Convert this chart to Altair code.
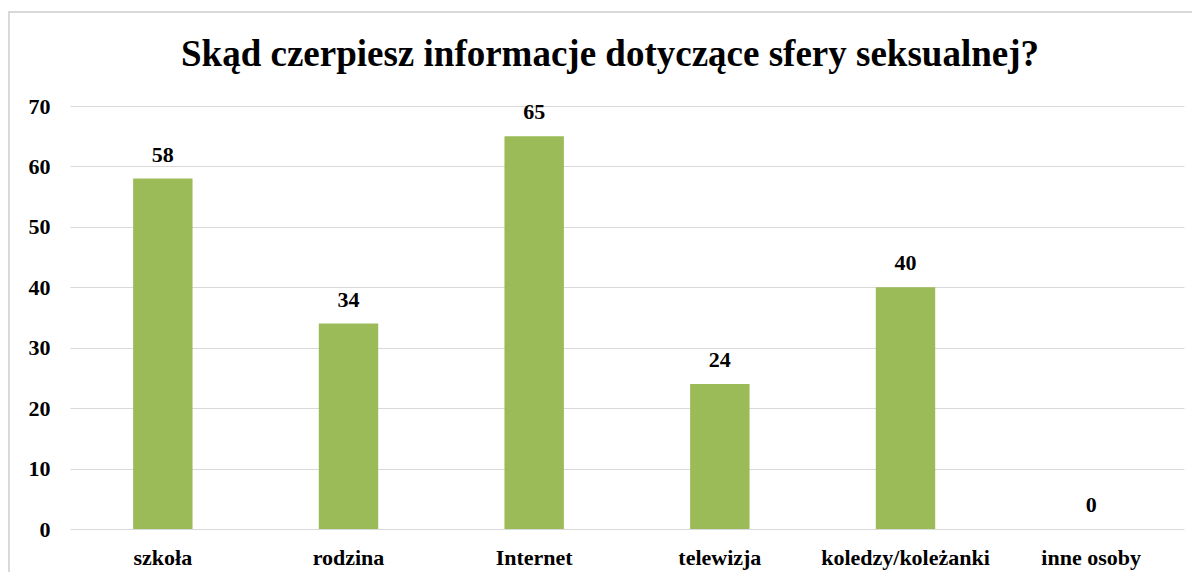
import altair as alt
import pandas as pd

categories = ["szkoła", "rodzina", "Internet", "telewizja", "koledzy/koleżanki", "inne osoby"]
values = [58, 34, 65, 24, 40, 0]
title_text = "Skąd czerpiesz informacje dotyczące sfery seksualnej?"

df = pd.DataFrame({"cat": categories, "val": values})
FONT = "Liberation Serif"
W, H = 1114, 423
TOP = 98

x = alt.X("cat:N", sort=categories, title=None,
          scale=alt.Scale(paddingInner=0.68, paddingOuter=0.34),
          axis=alt.Axis(labelAngle=0, labelFont=FONT, labelFontSize=22, labelFontWeight="bold",
                        labelColor="black", domain=False, ticks=False, labelPadding=18))
y = alt.Y("val:Q", title=None,
          scale=alt.Scale(domain=[0, 70]),
          axis=alt.Axis(values=[0, 10, 20, 30, 40, 50, 60, 70], labelFont=FONT, labelFontSize=22,
                        labelFontWeight="bold", labelColor="black", domain=False, ticks=False,
                        labelPadding=20, grid=True, gridColor="#d9d9d9", gridWidth=1))

base = alt.Chart(df)
bars = base.mark_bar(color="#9BBB59").encode(x=x, y=y)
labels = base.mark_text(font=FONT, fontSize=22, fontWeight="bold", color="black",
                        baseline="alphabetic", dy=-17).encode(x=x, y=y, text="val:Q")
border = base.mark_rect(fill=None, stroke="#d9d9d9", strokeWidth=1.5, clip=False).encode(
    x=alt.value(-61), x2=alt.value(1300), y=alt.value(-(TOP - 4)), y2=alt.value(700))
title = alt.Chart(pd.DataFrame({"t": [title_text]})).mark_text(
    font=FONT, fontSize=37, fontWeight="bold", color="black",
    baseline="alphabetic", align="center").encode(
    text="t:N", x=alt.value(540), y=alt.value(-40))

chart = alt.layer(border, bars, labels, title).properties(
    width=W, height=H,
    padding={"left": 62, "top": TOP, "right": 8, "bottom": 43},
    autosize=alt.AutoSizeParams(type="none"),
).configure_view(stroke=None)

chart.save("out.html", embed_options={"renderer": "svg", "actions": False})
